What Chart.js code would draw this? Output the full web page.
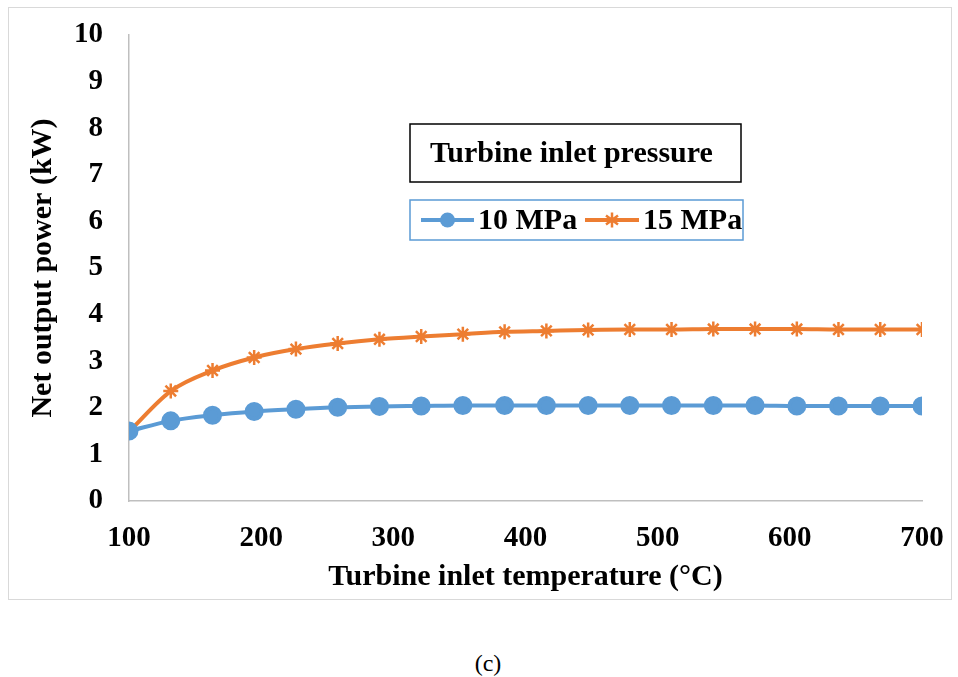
<!DOCTYPE html>
<html lang="en">
  <head>
    <meta charset="utf-8" />
    <title>Net output power vs turbine inlet temperature</title>
    <style>
      body { margin: 0; background: #fff; }
      #frame {
        position: absolute; left: 8px; top: 7px;
        width: 942px; height: 591px;
        border: 1px solid #d9d9d9;
      }
      #caption {
        position: absolute; left: 0; width: 976px; top: 650px;
        text-align: center;
        font: 24px "Liberation Serif", "Times New Roman", serif;
      }
    </style>
  </head>
  <body>
    <div id="frame">
      <canvas id="line-chart" width="942" height="591"></canvas>
    </div>
    <div id="caption">(c)</div>

    <script src="https://cdn.jsdelivr.net/npm/chart.js@4.4.0/dist/chart.umd.min.js"></script>
    <script>
      // turbine inlet temperature (°C)
      const temperatures = [
        100, 131.6, 163.2, 194.7, 226.3, 257.9, 289.5, 321.1, 352.6, 384.2,
        415.8, 447.4, 478.9, 510.5, 542.1, 573.7, 605.3, 636.8, 668.4, 700,
      ];
      // net output power (kW)
      const power10MPa = [
        1.50, 1.72, 1.84, 1.92, 1.97, 2.01, 2.03, 2.04, 2.05, 2.05,
        2.05, 2.05, 2.05, 2.05, 2.05, 2.05, 2.04, 2.04, 2.04, 2.04,
      ];
      const power15MPa = [
        1.49, 2.36, 2.80, 3.08, 3.26, 3.38, 3.47, 3.53, 3.58, 3.63,
        3.65, 3.67, 3.68, 3.68, 3.69, 3.69, 3.69, 3.68, 3.68, 3.68,
      ];
      const seriesLabels = ["10 MPa", "15 MPa"];
      const legendTitle = "Turbine inlet pressure";
      const xTicks = [100, 200, 300, 400, 500, 600, 700];
      const yTicks = [0, 1, 2, 3, 4, 5, 6, 7, 8, 9, 10];

      const BLUE = "#5b9bd5";
      const ORANGE = "#ed7d31";
      const FONT = "'Liberation Serif', 'Times New Roman', serif";

      const toPoints = (ys) => ys.map((y, i) => ({ x: temperatures[i], y: y }));

      // no extra label overflow padding, the layout padding decides the plot box
      const noPad = (s) => {
        s.paddingLeft = 0;
        s.paddingRight = 0;
        s.paddingTop = 0;
        s.paddingBottom = 0;
      };

      // draws the two framed legend boxes like the Excel original
      const boxLegend = {
        id: "boxLegend",
        afterDraw(chart) {
          const ctx = chart.ctx;
          const sets = chart.data.datasets;
          ctx.save();
          ctx.font = "bold 30px " + FONT;
          ctx.textBaseline = "middle";
          ctx.textAlign = "left";

          // title box
          ctx.lineWidth = 1.5;
          ctx.strokeStyle = "#000";
          ctx.strokeRect(401, 116, 331, 58);
          ctx.fillStyle = "#000";
          ctx.fillText(legendTitle, 421, 146);

          // series box
          ctx.strokeStyle = BLUE;
          ctx.strokeRect(401, 192, 333, 40);

          const items = [
            { x0: 412, x1: 465, tx: 469 },
            { x0: 576, x1: 630, tx: 634 },
          ];
          const y = 212;
          items.forEach((it, i) => {
            const ds = sets[i];
            ctx.strokeStyle = ds.borderColor;
            ctx.lineWidth = 4;
            ctx.beginPath();
            ctx.moveTo(it.x0, y);
            ctx.lineTo(it.x1, y);
            ctx.stroke();
            const cx = (it.x0 + it.x1) / 2;
            if (ds.pointStyle === "circle") {
              ctx.fillStyle = ds.pointBackgroundColor;
              ctx.beginPath();
              ctx.arc(cx, y, 7.5, 0, Math.PI * 2);
              ctx.fill();
            } else {
              ctx.lineWidth = 2.5;
              const r = 7.5;
              ctx.beginPath();
              ctx.moveTo(cx, y - r); ctx.lineTo(cx, y + r);
              ctx.moveTo(cx - r * 0.8, y - r * 0.6); ctx.lineTo(cx + r * 0.8, y + r * 0.6);
              ctx.moveTo(cx - r * 0.8, y + r * 0.6); ctx.lineTo(cx + r * 0.8, y - r * 0.6);
              ctx.stroke();
            }
            ctx.fillStyle = "#000";
            ctx.fillText(ds.label, it.tx, y + 1);
          });
          ctx.restore();
        },
      };

      new Chart(document.getElementById("line-chart"), {
        type: "line",
        data: {
          datasets: [
            {
              label: seriesLabels[0],
              data: toPoints(power10MPa),
              borderColor: BLUE,
              backgroundColor: BLUE,
              pointBackgroundColor: BLUE,
              pointBorderColor: BLUE,
              pointStyle: "circle",
              pointRadius: 7.5,
              borderWidth: 4,
              cubicInterpolationMode: "monotone",
            },
            {
              label: seriesLabels[1],
              data: toPoints(power15MPa),
              borderColor: ORANGE,
              backgroundColor: ORANGE,
              pointBackgroundColor: ORANGE,
              pointBorderColor: ORANGE,
              pointStyle: "star",
              pointRadius: 7.5,
              pointBorderWidth: 2.5,
              borderWidth: 4,
              cubicInterpolationMode: "monotone",
            },
          ],
        },
        options: {
          responsive: false,
          animation: false,
          layout: { padding: { left: 0, top: 27, right: 29, bottom: 0 } },
          plugins: {
            legend: { display: false },
            tooltip: { enabled: false },
          },
          scales: {
            x: {
              type: "linear",
              min: 100,
              max: 700,
              afterFit: (s) => { s.height = 98; noPad(s); },
              afterBuildTicks: (s) => { s.ticks = xTicks.map((v) => ({ value: v })); },
              grid: { drawOnChartArea: false, drawTicks: false },
              border: { display: true, color: "#bfbfbf", width: 1.5 },
              ticks: {
                padding: 20,
                color: "#000",
                maxRotation: 0,
                font: { family: FONT, size: 29, weight: "bold" },
              },
              title: {
                display: true,
                text: "Turbine inlet temperature (°C)",
                color: "#000",
                padding: { top: 0, bottom: 4 },
                font: { family: FONT, size: 30, weight: "bold" },
              },
            },
            y: {
              min: 0,
              max: 10,
              afterFit: (s) => { s.width = 120; noPad(s); },
              afterBuildTicks: (s) => { s.ticks = yTicks.map((v) => ({ value: v })); },
              grid: { drawOnChartArea: false, drawTicks: false },
              border: { display: true, color: "#bfbfbf", width: 1.5 },
              ticks: {
                padding: 26,
                color: "#000",
                font: { family: FONT, size: 29, weight: "bold" },
              },
              title: {
                display: true,
                text: "Net output power (kW)",
                color: "#000",
                padding: { top: 16, bottom: 0 },
                font: { family: FONT, size: 30, weight: "bold" },
              },
            },
          },
        },
        plugins: [boxLegend],
      });
    </script>
  </body>
</html>
